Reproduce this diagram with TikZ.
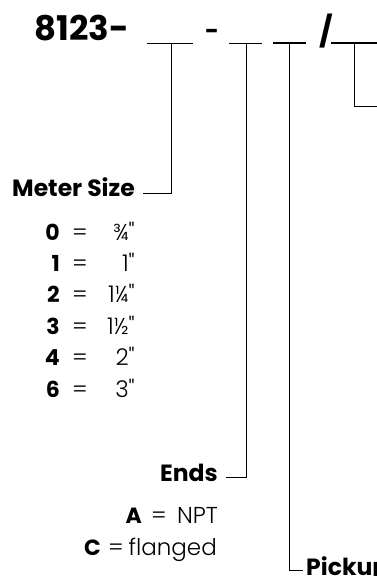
\documentclass[tikz,border=0pt]{standalone}
\usepackage{fontspec}
\setmainfont{Poppins}
\newfontfamily\lightfont{Poppins Light}
\begin{document}
\begin{tikzpicture}[x=1pt,y=-1pt,>=stealth,
  label/.style={font=\fontsize{23.5}{28}\selectfont\bfseries, inner sep=0pt, anchor=base east},
  entry/.style={font=\fontsize{23}{28}\selectfont\lightfont, inner sep=0pt, anchor=base east},
  eq/.style={entry, anchor=base},
  key/.style={font=\fontsize{22}{26}\selectfont\bfseries, inner sep=0pt, anchor=base east},
  blank/.style={line width=0.9pt},
  bblank/.style={line width=1.7pt},
  lead/.style={line width=0.6pt}]
\useasboundingbox (0,0) rectangle (377,576);
\node[font=\fontsize{34}{40}\selectfont\bfseries, inner sep=0pt, anchor=base west] (code) at (34,40) {8123-};
\coordinate (b1) at (147,43);
\coordinate (b1e) at (193,43);
\coordinate (b2) at (229,43);
\coordinate (b2e) at (262,43);
\coordinate (b3) at (273,43);
\coordinate (b3e) at (306,43);
\coordinate (b4) at (331,43);
\coordinate (b4e) at (380,43);
\node[font=\fontsize{24}{30}\selectfont\bfseries, inner sep=0pt, anchor=base] (dash) at (212,39) {-};
\node[font=\fontsize{30}{36}\selectfont\bfseries, inner sep=0pt, anchor=base] (slash) at (326,42) {/};
\draw[blank] (b1) -- (b1e);
\draw[blank] (b2) -- (b2e);
\draw[bblank] (b3) -- (b3e);
\draw[bblank] (b4) -- (b4e);
\node[label] (size) at (135,196) {Meter Size};
\node[label] (ends) at (218,481) {Ends};
\node[label, anchor=base west] (pickup) at (306,575) {Pickup};
\coordinate (c1) at (171,43);
\coordinate (c2) at (246,43);
\coordinate (c3) at (289,43);
\coordinate (c4) at (354,43);
\coordinate (e4) at (380,106);
\draw[lead] (c1) |- ([xshift=8pt,yshift=3pt]size.base east);
\draw[lead] (c2) |- ([xshift=8pt,yshift=4pt]ends.base east);
\draw[lead] (c3) |- ([xshift=-3pt,yshift=5pt]pickup.base west);
\draw[lead] (c4) |- (e4);
\foreach \k/\v [count=\i from 0] in {0/{¾"}, 1/{1"}, 2/{1¼"}, 3/{1½"}, 4/{2"}, 6/{3"}} {
  \node[key] (k\i) at (60,240+31.4*\i) {\k};
  \node[eq] (q\i) at (80,240+31.4*\i) {=};
  \node[entry] (v\i) at (135,240+31.4*\i) {\v};
}
\node[key] (ka) at (142,523) {A};
\node[eq] (qa) at (159,523) {=};
\node[entry] (npt) at (218,523) {NPT};
\node[key] (kc) at (101,555) {C};
\node[eq] (qc) at (116,555) {=};
\node[entry] (flanged) at (217,555) {flanged};
\end{tikzpicture}
\end{document}
